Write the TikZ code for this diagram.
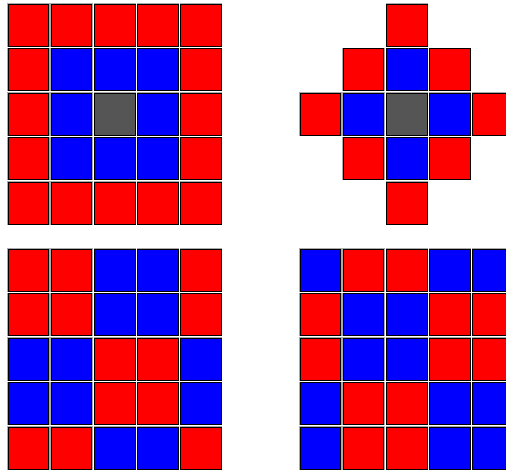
\documentclass[tikz,border=0pt]{standalone}
\definecolor{redcol}{HTML}{FF0000}
\definecolor{bluecol}{HTML}{0000FF}
\definecolor{centercol}{HTML}{555555}
\definecolor{halocol}{HTML}{AAAAAA}

\tikzset{
  cellbox/.style={draw=black, line width=0.9pt,
    preaction={draw=halocol, line width=1.8pt}},
  redcell/.style={cellbox, fill=redcol},
  bluecell/.style={cellbox, fill=bluecol},
  midcell/.style={cellbox, fill=centercol},
  nocell/.style={},
}
% one row of five cells, #1 = row index, #2 = list of cell styles
\newcommand{\cellrow}[2]{%
  \foreach \cst [count=\i from 0] in {#2}
    \path[\cst] (\i*43.2,#1*44.5) rectangle ++(40.6,42);}

\begin{document}
\begin{tikzpicture}[x=1pt, y=-1pt]
\clip (0,0) rectangle (506,471);
\useasboundingbox (0,0) rectangle (506,471);

% === TOP LEFT: ring around the centre ===
\begin{scope}[shift={(8,4)}]
  \cellrow{0}{redcell,redcell,redcell,redcell,redcell}
  \cellrow{1}{redcell,bluecell,bluecell,bluecell,redcell}
  \cellrow{2}{redcell,bluecell,midcell,bluecell,redcell}
  \cellrow{3}{redcell,bluecell,bluecell,bluecell,redcell}
  \cellrow{4}{redcell,redcell,redcell,redcell,redcell}
\end{scope}

% === TOP RIGHT: diamond around the centre ===
\begin{scope}[shift={(300,4)}]
  \cellrow{0}{nocell,nocell,redcell,nocell,nocell}
  \cellrow{1}{nocell,redcell,bluecell,redcell,nocell}
  \cellrow{2}{redcell,bluecell,midcell,bluecell,redcell}
  \cellrow{3}{nocell,redcell,bluecell,redcell,nocell}
  \cellrow{4}{nocell,nocell,redcell,nocell,nocell}
\end{scope}

% === BOTTOM LEFT: 2x2 blocks ===
\begin{scope}[shift={(8,249)}]
  \cellrow{0}{redcell,redcell,bluecell,bluecell,redcell}
  \cellrow{1}{redcell,redcell,bluecell,bluecell,redcell}
  \cellrow{2}{bluecell,bluecell,redcell,redcell,bluecell}
  \cellrow{3}{bluecell,bluecell,redcell,redcell,bluecell}
  \cellrow{4}{redcell,redcell,bluecell,bluecell,redcell}
\end{scope}

% === BOTTOM RIGHT: shifted 2x2 blocks ===
\begin{scope}[shift={(300,249)}]
  \cellrow{0}{bluecell,redcell,redcell,bluecell,bluecell}
  \cellrow{1}{redcell,bluecell,bluecell,redcell,redcell}
  \cellrow{2}{redcell,bluecell,bluecell,redcell,redcell}
  \cellrow{3}{bluecell,redcell,redcell,bluecell,bluecell}
  \cellrow{4}{bluecell,redcell,redcell,bluecell,bluecell}
\end{scope}

\end{tikzpicture}
\end{document}
